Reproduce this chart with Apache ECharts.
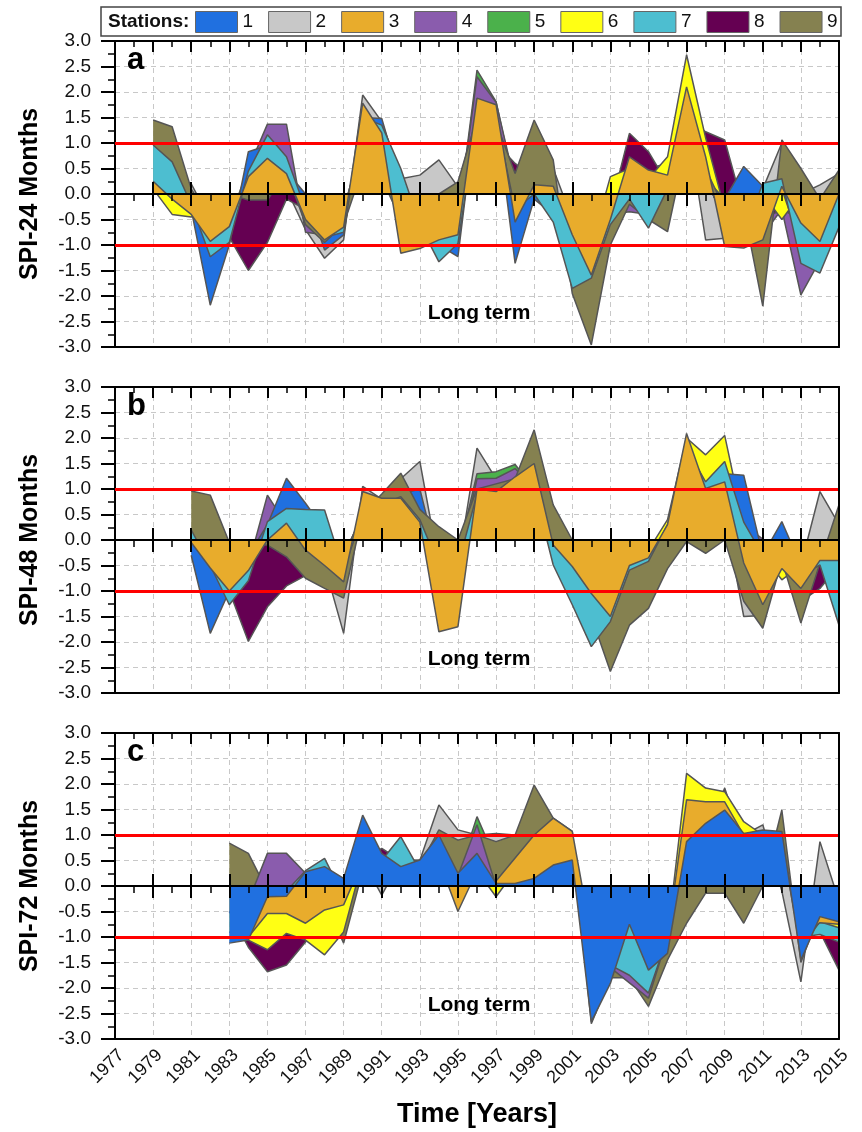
<!DOCTYPE html>
<html>
<head>
<meta charset="utf-8">
<script src="https://cdn.jsdelivr.net/npm/echarts@6/dist/echarts.min.js"></script>
<style>
html, body { margin: 0; padding: 0; background: #fff; }
#chart { width: 862px; height: 1132px; }
</style>
</head>
<body>
<div id="chart"></div>
<script>
var FONT = '"Liberation Sans", Arial, sans-serif';

var stations = ['1', '2', '3', '4', '5', '6', '7', '8', '9'];
var colors = ['#2070e0', '#c8c8c8', '#e8ac2c', '#8a5cad', '#4bb14b', '#ffff14', '#4dbed0', '#650052', '#858150'];

// SPI-24, years 1979 - 2015
var spi24_1 = [0.1, 0.2, -0.3, -2.18, -1.0, 0.83, 0.95, 0.45, 0.0, -1.1, -0.8, 1.5, 1.48, 0.2, -0.8, -1.0, -1.23, 1.8, 1.6, -1.36, -0.1, -0.4, -1.5, -1.2, -0.5, 0.3, -0.3, 0.2, 1.6, 0.3, -0.1, 0.54, 0.15, 0.1, -1.0, -0.8, -0.3];
var spi24_2 = [0.0, 0.1, 0.2, -0.5, -0.3, 0.2, 0.3, 0.1, -0.7, -1.26, -0.9, 1.94, 1.42, 0.3, 0.37, 0.67, 0.14, 1.6, 1.5, -0.3, 0.3, 0.5, -0.5, -1.0, 0.0, 0.2, 0.5, 0.6, 1.5, -0.9, -0.87, -0.3, 0.1, 1.0, 0.0, 0.18, 0.4];
var spi24_3 = [0.25, -0.1, -0.4, -0.93, -0.64, 0.34, 0.7, 0.4, -0.5, -0.9, -0.65, 1.78, 1.2, -1.16, -1.07, -0.9, -0.8, 1.88, 1.75, -0.55, 0.18, 0.15, -0.8, -1.59, -0.5, 0.73, 0.47, 0.37, 2.1, 0.73, -1.03, -1.06, -0.9, 0.15, -0.57, -0.93, 0.0];
var spi24_4 = [0.0, 0.0, -0.3, -0.8, -0.5, 0.5, 1.37, 1.37, -0.75, -0.8, -0.5, 1.0, 0.8, -0.5, -0.5, -0.5, -0.5, 2.3, 1.8, 0.2, 0.3, -0.3, -1.0, -1.2, -0.4, -0.35, -0.4, 0.2, 1.5, 0.3, -0.5, -0.5, -0.8, -0.3, -1.98, -1.3, -0.4];
var spi24_5 = [0.1, 0.0, -0.2, -0.5, -0.3, 0.2, 0.5, 0.3, -0.3, -0.5, -0.3, 1.0, 0.8, -0.5, -0.5, -0.5, -0.5, 2.43, 1.81, 0.1, 0.1, 0.0, -0.8, -1.0, -0.3, 0.3, 0.2, 0.2, 1.2, 0.3, -0.5, -0.5, -0.5, 0.1, -0.3, -0.5, -0.2];
var spi24_6 = [0.1, -0.4, -0.45, -0.3, -0.3, 0.2, 0.3, 0.2, -0.3, -0.5, -0.3, 1.0, 0.8, -0.5, -0.5, -0.5, -0.5, 1.2, 1.2, -0.3, 0.1, 0.1, -0.8, -1.0, 0.34, 0.5, 0.3, 0.73, 2.73, 1.1, -0.3, -0.3, 0.0, -0.5, 0.0, -0.3, 0.0];
var spi24_7 = [0.96, 0.63, -0.2, -1.23, -0.95, 0.45, 1.16, 0.73, -0.3, -0.85, -0.75, 1.5, 1.35, 0.5, -0.6, -1.33, -0.97, 1.5, 1.5, -0.3, 0.0, -0.55, -1.85, -1.65, -0.6, -0.1, -0.67, 0.1, 1.5, 0.3, -0.5, -0.8, 0.21, 0.3, -1.36, -1.55, -0.65];
var spi24_8 = [0.0, 0.0, -0.2, -0.5, -0.85, -1.5, -0.95, -0.1, -0.3, -0.5, -0.3, 0.8, 0.5, -0.5, -0.3, -0.3, -0.3, 1.5, 1.0, 0.6, 0.3, -0.3, -1.0, -1.0, -0.3, 1.19, 0.83, 0.2, 1.5, 1.22, 1.06, -0.3, -0.5, -0.3, -0.5, -0.5, -0.3];
var spi24_9 = [1.45, 1.32, 0.1, -0.5, 0.0, -0.12, -0.12, 0.45, -0.6, -0.95, -0.6, 0.5, 0.3, -0.5, -0.3, 0.0, 0.24, 1.5, 1.4, 0.4, 1.45, 0.67, -1.95, -2.96, -1.0, -0.2, -0.5, -0.74, 1.0, 0.5, -0.3, -0.3, -2.2, 1.06, 0.5, -0.1, 0.47];

// SPI-48, years 1981 - 2015
var spi48_1 = [-0.3, -1.83, -1.0, -0.3, 0.3, 1.21, 0.72, 0.2, -0.5, 0.5, 0.6, 0.9, 1.0, -0.5, -0.5, 0.9, 1.0, 1.0, 1.0, 0.0, -0.5, -1.0, -1.2, -0.5, -0.3, 0.2, 1.5, 1.0, 1.3, 1.27, -0.3, 0.36, -0.5, -0.4, -0.3];
var spi48_2 = [0.2, -0.5, -0.5, -0.5, 0.2, 0.5, 0.3, -0.5, -1.83, 1.05, 0.8, 1.2, 1.54, -0.5, -0.5, 1.8, 1.2, 1.3, 1.5, 0.3, -0.5, -1.0, -1.3, -0.5, -0.5, 0.3, 1.8, 1.0, 0.5, -1.5, -1.48, -0.4, -0.5, 0.95, 0.3];
var spi48_3 = [-0.05, -0.55, -1.0, -0.6, 0.0, 0.33, -0.2, -0.5, -0.82, 0.95, 0.82, 0.82, 0.35, -1.8, -1.7, 1.0, 0.95, 1.24, 1.5, -0.1, -0.52, -1.05, -1.5, -0.5, -0.35, 0.3, 2.09, 1.01, 1.14, -0.45, -1.27, -0.56, -0.95, -0.4, -0.4];
var spi48_4 = [-0.1, -0.5, -0.5, -0.5, 0.88, 0.3, 0.3, -0.5, -0.5, 0.5, 0.8, 0.8, 0.5, -0.5, -0.5, 1.2, 1.21, 1.4, 1.0, 0.2, -0.5, -1.0, -1.2, -0.5, -0.3, 0.2, 1.5, 1.0, 1.0, 0.3, 0.02, -0.3, -1.0, -0.9, -0.5];
var spi48_5 = [0.1, -0.3, -0.3, -0.3, 0.3, 0.2, 0.2, -0.3, -0.3, 0.5, 0.5, 0.5, 0.3, -0.3, -0.3, 1.3, 1.34, 1.48, 1.0, 0.1, -0.3, -0.5, -0.5, -0.3, -0.2, 0.1, 1.0, 0.5, 0.5, 0.1, -0.1, -0.1, -0.5, -0.3, -0.2];
var spi48_6 = [0.0, -0.3, -0.3, -0.3, 0.1, 0.1, 0.1, -0.3, -0.3, 0.5, 0.5, 0.5, 0.2, -0.3, -0.3, 0.8, 0.8, 0.8, 0.8, 0.0, -0.3, -0.5, -0.5, -0.3, -0.2, 0.4, 2.0, 1.67, 2.05, 0.3, -0.3, -0.78, -0.5, -0.3, -0.2];
var spi48_7 = [0.2, -0.5, -1.27, -0.8, 0.36, 0.62, 0.6, 0.59, -0.6, 0.5, 0.7, 0.85, 0.4, -0.5, -0.5, 0.9, 0.9, 1.0, 1.0, -0.49, -1.27, -2.09, -1.6, -0.59, -0.42, 0.3, 1.8, 1.14, 1.54, 0.35, -0.3, -0.3, -0.7, -0.49, -1.67];
var spi48_8 = [-0.1, -0.5, -1.0, -1.99, -1.31, -0.9, -0.7, -0.3, -0.3, 0.3, 0.85, 0.5, 0.3, -0.3, -0.3, 0.8, 0.8, 0.8, 0.8, 0.0, -0.3, -0.5, -0.5, -0.3, -0.2, 0.2, 1.0, 0.8, 0.8, 0.1, -0.2, -0.3, -1.2, -0.95, -0.5];
var spi48_9 = [0.96, 0.88, -0.05, -0.1, -0.1, -0.33, -0.75, -0.95, -1.14, 0.5, 0.9, 1.31, 0.6, 0.26, 0.0, 1.0, 1.1, 1.2, 2.16, 0.69, 0.0, -1.5, -2.58, -1.67, -1.34, -0.56, -0.03, -0.26, 0.0, -1.2, -1.73, -0.4, -1.63, -0.45, 0.69];

// SPI-72, years 1983 - 2015
var spi72_1 = [-1.12, -1.06, -0.21, -0.2, 0.28, 0.38, 0.15, 1.39, 0.64, 0.38, 0.51, 1.0, 0.25, 0.64, 0.05, 0.05, 0.15, 0.41, 0.51, -2.66, -1.91, -0.75, -1.65, -1.32, 0.87, 1.23, 1.49, 1.03, 1.1, 1.07, -1.45, -0.6, -0.7];
var spi72_2 = [-0.5, -0.5, 0.2, 0.2, 0.2, 0.3, -0.3, 0.5, -0.18, 0.5, 0.5, 1.59, 1.1, 1.0, 1.03, 1.0, 1.0, 1.0, 0.5, -1.5, -1.5, -1.0, -1.5, -1.0, 1.0, 1.0, 1.0, 1.0, 1.2, -0.1, -1.88, 0.87, -0.3];
var spi72_3 = [-0.5, -1.0, -0.54, -0.54, -0.73, -0.47, -0.37, 0.5, 0.3, 0.3, 0.3, 0.5, -0.5, 0.3, 0.1, 0.55, 1.0, 1.33, 1.07, -1.0, -1.0, -0.5, -1.0, -1.0, 1.69, 1.65, 1.65, 1.0, 1.0, 0.8, -1.0, -0.72, -0.75];
var spi72_4 = [-0.3, -0.3, 0.64, 0.64, 0.25, 0.2, -0.2, 0.5, 0.5, 0.5, 0.5, 0.8, 0.2, 1.2, 0.0, 0.0, 0.1, 0.3, 0.3, -1.5, -1.6, -1.9, -2.2, -1.0, 1.0, 1.0, 1.3, 0.8, 0.8, 0.8, -1.0, -0.9, -0.9];
var spi72_5 = [-0.3, -0.3, 0.3, 0.3, 0.2, 0.2, -0.2, 0.5, 0.5, 0.5, 0.5, 0.8, 0.2, 1.36, 0.5, 0.5, 0.5, 0.5, 0.3, -1.0, -1.0, -0.5, -1.0, -1.0, 1.0, 1.0, 1.0, 0.8, 0.8, 0.8, -1.0, -0.5, -0.5];
var spi72_6 = [-0.9, -1.06, -1.25, -0.93, -1.06, -1.35, -0.9, 0.5, 0.3, 0.3, 0.3, 0.5, -0.3, 0.3, -0.21, 0.3, 0.5, 0.5, 0.5, -1.0, -1.0, -0.5, -1.0, -1.0, 2.21, 1.92, 1.85, 1.26, 1.0, 0.8, -1.2, -0.7, -0.82];
var spi72_7 = [-0.5, -0.5, -0.1, -0.1, 0.3, 0.54, -0.2, 0.5, 0.5, 0.97, 0.3, 0.5, 0.2, 0.5, 0.0, 0.0, 0.1, 0.3, 0.3, -1.5, -1.55, -1.75, -2.1, -1.0, 1.0, 1.0, 1.3, 0.8, 0.8, 0.8, -1.0, -0.95, -1.1];
var spi72_8 = [-0.5, -1.2, -1.68, -1.55, -1.1, -0.5, -0.3, 0.5, 0.74, 0.5, 0.5, 0.8, 0.2, 0.8, 0.5, 0.5, 0.5, 0.5, 0.3, -1.0, -1.0, -0.5, -1.0, -1.0, 1.0, 1.0, 1.92, 0.8, 0.8, 0.8, -1.0, -0.9, -1.65];
var spi72_9 = [0.84, 0.64, -0.1, -0.1, -0.3, -0.3, -1.12, 0.3, 0.3, 0.58, 0.4, 1.1, 0.9, 1.0, 0.87, 1.0, 1.98, 1.33, 1.07, -2.7, -1.8, -1.8, -2.36, -1.45, -0.73, -0.14, -0.14, -0.73, 0.0, 1.49, -1.5, -0.5, -0.5];

var panels = [
    { title: 'SPI-24 Months', letter: 'a', start: 1979,
      series: [spi24_1, spi24_2, spi24_3, spi24_4, spi24_5, spi24_6, spi24_7, spi24_8, spi24_9],
      order: [2, 5, 4, 8, 6, 1, 9, 7, 3] },
    { title: 'SPI-48 Months', letter: 'b', start: 1981,
      series: [spi48_1, spi48_2, spi48_3, spi48_4, spi48_5, spi48_6, spi48_7, spi48_8, spi48_9],
      order: [2, 5, 4, 8, 6, 1, 9, 7, 3] },
    { title: 'SPI-72 Months', letter: 'c', start: 1983,
      series: [spi72_1, spi72_2, spi72_3, spi72_4, spi72_5, spi72_6, spi72_7, spi72_8, spi72_9],
      order: [8, 5, 2, 9, 4, 7, 6, 3, 1] }
];

var gridTop = [41, 387, 733];
var gridH = 306;

var grids = [], xAxes = [], yAxes = [], series = [], graphics = [];

var black = { color: '#000', width: 2 };
var dashed = { color: '#c8c8c8', type: [5, 4], width: 1 };

panels.forEach(function (p, g) {
    grids.push({ left: 115, top: gridTop[g], width: 724, height: gridH, show: false, outerBoundsMode: 'none' });

    var base = { type: 'value', gridIndex: g, min: 1977, max: 2015, interval: 2 };
    var last = g === 2;
    // bottom border + vertical grid lines (+ year labels on the last panel)
    xAxes.push(Object.assign({}, base, {
        position: 'bottom', z: 0,
        axisLine: { show: true, onZero: false, lineStyle: black },
        axisTick: { show: false },
        axisLabel: { show: last, rotate: 45, margin: 7, fontSize: 18, color: '#111', fontFamily: FONT,
                     verticalAlign: 'top',
                     formatter: function (v) { return String(v); } },
        splitLine: { show: true, lineStyle: dashed },
        name: last ? 'Time [Years]' : '',
        nameLocation: 'middle', nameGap: 62,
        nameTextStyle: { fontSize: 27, fontWeight: 'bold', color: '#000', fontFamily: FONT }
    }));
    // zero line, ticks pointing down
    xAxes.push(Object.assign({}, base, {
        position: 'bottom', z: 50,
        axisLine: { show: true, onZero: true, onZeroAxisIndex: g, lineStyle: black },
        axisTick: { show: true, inside: false, length: 12, lineStyle: black },
        minorTick: { show: true, splitNumber: 2, length: 7, lineStyle: { color: '#000', width: 1.5 } },
        axisLabel: { show: false }, splitLine: { show: false }
    }));
    // zero line, major ticks pointing up
    xAxes.push(Object.assign({}, base, {
        position: 'bottom', z: 50,
        axisLine: { show: false, onZero: true, onZeroAxisIndex: g },
        axisTick: { show: true, inside: true, length: 12, lineStyle: black },
        axisLabel: { show: false }, splitLine: { show: false }
    }));
    // top border with inward ticks
    xAxes.push(Object.assign({}, base, {
        position: 'top', z: 50,
        axisLine: { show: true, onZero: false, lineStyle: black },
        axisTick: { show: true, inside: true, length: 11, lineStyle: black },
        minorTick: { show: true, splitNumber: 2, length: 6, lineStyle: { color: '#000', width: 1.5 } },
        axisLabel: { show: false }, splitLine: { show: false }
    }));

    yAxes[g] = {
        type: 'value', gridIndex: g, min: -3, max: 3, interval: 0.5, position: 'left', z: 0,
        axisLine: { show: true, onZero: false, lineStyle: black },
        axisTick: { show: true, inside: false, length: 14, lineStyle: black },
        minorTick: { show: true, splitNumber: 2, length: 7, lineStyle: { color: '#000', width: 1.5 } },
        axisLabel: { show: true, margin: 24, fontSize: 19, color: '#111', fontFamily: FONT,
                     formatter: function (v) { return v.toFixed(1); } },
        splitLine: { show: true, lineStyle: dashed },
        name: p.title, nameLocation: 'middle', nameGap: 72, nameRotate: 90,
        nameTextStyle: { fontSize: 25, fontWeight: 'bold', color: '#000', fontFamily: FONT }
    };
    // right border
    yAxes[3 + g] = {
        type: 'value', gridIndex: g, min: -3, max: 3, position: 'right', z: 50,
        axisLine: { show: true, onZero: false, lineStyle: black },
        axisTick: { show: false }, axisLabel: { show: false }, splitLine: { show: false }
    };

    // each station gets its own z so upper fills hide the outlines below them
    p.order.forEach(function (st, k) {
        var vals = p.series[st - 1];
        var s = {
            name: stations[st - 1],
            type: 'line',
            xAxisIndex: g * 4,
            yAxisIndex: g,
            z: 2 + k,
            data: vals.map(function (v, i) { return [p.start + i, v]; }),
            symbol: 'none',
            lineStyle: { color: '#555', width: 1.5 },
            itemStyle: { color: colors[st - 1] },
            areaStyle: { color: colors[st - 1], opacity: 1 },
            emphasis: { disabled: true },
            animation: false
        };
        if (k === p.order.length - 1) {
            s.markLine = {
                silent: true, symbol: 'none', animation: false, z: 40,
                label: { show: false },
                lineStyle: { color: '#ff0000', width: 3, type: 'solid' },
                data: [{ yAxis: 1 }, { yAxis: -1 }]
            };
        }
        series.push(s);
    });

    graphics.push({
        type: 'text', x: 127, y: gridTop[g] + 4, silent: true, z: 60,
        style: { text: p.letter, font: 'bold 31px ' + FONT, fill: '#000', verticalAlign: 'top' }
    });
    graphics.push({
        type: 'text', x: 479, y: gridTop[g] + 272, silent: true, z: 60,
        style: { text: 'Long term', font: 'bold 21px ' + FONT, fill: '#000', align: 'center', verticalAlign: 'middle' }
    });
});

graphics.push({
    type: 'rect', silent: true, z: 100,
    shape: { x: 101, y: 7, width: 740, height: 29 },
    style: { fill: 'none', stroke: '#444', lineWidth: 1.5 }
});
graphics.push({
    type: 'text', x: 108, y: 22, silent: true,
    style: { text: 'Stations:', font: 'bold 19px ' + FONT, fill: '#111', verticalAlign: 'middle' }
});

var myChart = echarts.init(document.getElementById('chart'), null, { renderer: 'canvas' });
myChart.setOption({
    animation: false,
    backgroundColor: '#fff',
    legend: {
        left: 195, top: 11, padding: 0, itemWidth: 42, itemHeight: 21, itemGap: 15,
        icon: 'rect', selectedMode: false,
        textStyle: { fontSize: 19, color: '#111', fontFamily: FONT },
        data: stations.map(function (s, i) {
            return { name: s, icon: 'rect', itemStyle: { color: colors[i], borderColor: '#666', borderWidth: 1 } };
        })
    },
    grid: grids,
    xAxis: xAxes,
    yAxis: yAxes,
    series: series,
    graphic: graphics
});
</script>
</body>
</html>
